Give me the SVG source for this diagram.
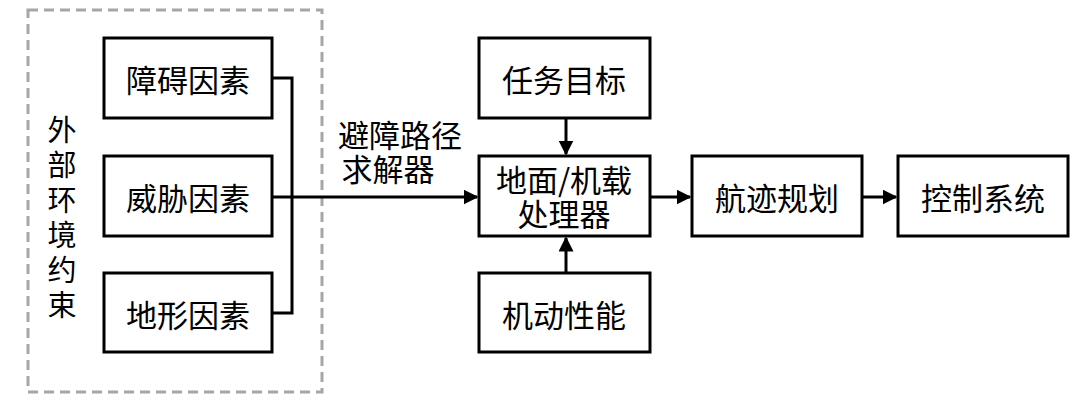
<svg xmlns="http://www.w3.org/2000/svg" width="1080" height="406" viewBox="0 0 1080 406">
<style>
.b{fill:#fff;stroke:#000;stroke-width:3}
.t{font-family:"Noto Sans CJK SC",sans-serif;font-size:31px;fill:#000;text-anchor:middle;dominant-baseline:central}
.c{fill:none;stroke:#000;stroke-width:3}
</style>
<defs><marker id="a" viewBox="0 0 10 10" refX="9" refY="5" markerWidth="5" markerHeight="5" orient="auto" markerUnits="strokeWidth"><path d="M0,0L10,5L0,10z" fill="#000"/></marker></defs>
<rect x="28" y="10" width="294" height="382" fill="none" stroke="#a6a6a6" stroke-width="3" stroke-dasharray="10,6"/>
<text class="t" x="62" y="220" style="writing-mode:vertical-rl;font-size:29px;letter-spacing:6px">外部环境约束</text>
<g id="n1"><rect class="b" x="104" y="38" width="168" height="80"/><text class="t" x="188" y="78">障碍因素</text></g>
<g id="n2"><rect class="b" x="104" y="156" width="168" height="80"/><text class="t" x="188" y="196">威胁因素</text></g>
<g id="n3"><rect class="b" x="104" y="273" width="168" height="79"/><text class="t" x="188" y="313">地形因素</text></g>
<g id="n4"><rect class="b" x="479" y="38" width="171" height="80"/><text class="t" x="564" y="78">任务目标</text></g>
<g id="n5"><rect class="b" x="479" y="156" width="171" height="80"/><text class="t" x="564" y="178">地面/机载<tspan x="564" dy="34">处理器</tspan></text></g>
<g id="n6"><rect class="b" x="479" y="273" width="171" height="79"/><text class="t" x="564" y="313">机动性能</text></g>
<g id="n7"><rect class="b" x="692" y="156" width="170" height="80"/><text class="t" x="777" y="196">航迹规划</text></g>
<g id="n8"><rect class="b" x="898" y="156" width="170" height="80"/><text class="t" x="983" y="196">控制系统</text></g>
<g id="conn">
<path class="c" d="M272 78H292V313H272M272 197H477" marker-end="url(#a)"/>
<path class="c" d="M566 118V154" marker-end="url(#a)"/>
<path class="c" d="M566 273V238" marker-end="url(#a)"/>
<path class="c" d="M650 197H690" marker-end="url(#a)"/>
<path class="c" d="M862 197H896" marker-end="url(#a)"/>
</g>
<text class="t" x="400" y="133">避障路径<tspan x="388" dy="34">求解器</tspan></text>
</svg>
